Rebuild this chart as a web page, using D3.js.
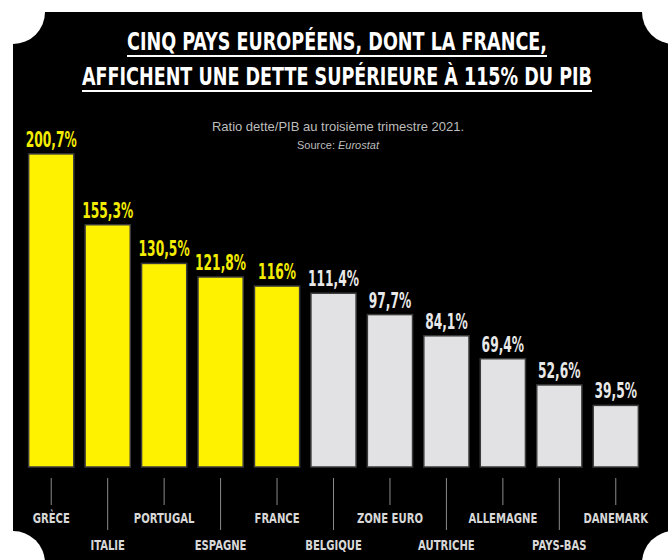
<!DOCTYPE html>
<html>
<head>
<meta charset="utf-8">
<script src="https://cdn.jsdelivr.net/npm/d3@7"></script>
<style>
  body { margin: 0; background: #fff; }
  svg { display: block; }
  .cond { font-family: "Liberation Sans Narrow", "DejaVu Sans Condensed", "Arial Narrow", sans-serif; font-stretch: condensed; }
</style>
</head>
<body>
<div id="chart"></div>
<script>
// Debt / GDP ratio, Q3 2021 (Eurostat)
const countries = ["GRÈCE", "ITALIE", "PORTUGAL", "ESPAGNE", "FRANCE", "BELGIQUE",
  "ZONE EURO", "AUTRICHE", "ALLEMAGNE", "PAYS-BAS", "DANEMARK"];
const ratios = [200.7, 155.3, 130.5, 121.8, 116, 111.4, 97.7, 84.1, 69.4, 52.6, 39.5];
const valueLabels = ["200,7%", "155,3%", "130,5%", "121,8%", "116%", "111,4%",
  "97,7%", "84,1%", "69,4%", "52,6%", "39,5%"];
const threshold = 115;

const titleLines = ["CINQ PAYS EUROPÉENS, DONT LA FRANCE,", "AFFICHENT UNE DETTE SUPÉRIEURE À 115% DU PIB"];
const subtitle = "Ratio dette/PIB au troisième trimestre 2021.";

const W = 668, H = 560;
const yellow = "#fff200", grey = "#e2e2e4";

const svg = d3.select("#chart").append("svg")
  .attr("width", W).attr("height", H);

// black card with scalloped corners
svg.append("rect").attr("x", 13).attr("y", 12).attr("width", 670).attr("height", 560).attr("fill", "#000");
[[13, 12], [674, 12], [13, 563], [674, 563]].forEach(c => {
  svg.append("circle").attr("cx", c[0]).attr("cy", c[1]).attr("r", 32).attr("fill", "#fff");
});

// title, underlined
const titleWidths = [420, 510];
const titleBase = [50, 85];
titleLines.forEach((t, i) => {
  svg.append("text")
    .attr("class", "cond")
    .attr("x", 337).attr("y", titleBase[i])
    .attr("text-anchor", "middle")
    .attr("textLength", titleWidths[i]).attr("lengthAdjust", "spacingAndGlyphs")
    .attr("font-size", 25).attr("font-weight", "bold")
    .attr("fill", "#fff")
    .text(t);
  svg.append("line")
    .attr("x1", 337 - titleWidths[i] / 2).attr("x2", 337 + titleWidths[i] / 2)
    .attr("y1", titleBase[i] + 6).attr("y2", titleBase[i] + 6)
    .attr("stroke", "#fff").attr("stroke-width", 2);
});

svg.append("text")
  .attr("x", 338).attr("y", 131)
  .attr("text-anchor", "middle")
  .attr("font-family", "Liberation Sans, Arial, sans-serif")
  .attr("font-size", 13).attr("fill", "#bdbdbd")
  .text(subtitle);

const src = svg.append("text")
  .attr("x", 338).attr("y", 149)
  .attr("text-anchor", "middle")
  .attr("font-family", "Liberation Sans, Arial, sans-serif")
  .attr("font-size", 11).attr("fill", "#bdbdbd");
src.append("tspan").text("Source: ");
src.append("tspan").attr("font-style", "italic").text("Eurostat");

// scales
const x = d3.scaleBand()
  .domain(countries)
  .range([23, 644])
  .paddingInner(0.2)
  .paddingOuter(0.1);

const y = d3.scaleLinear()
  .domain([0, 200])
  .range([467, 155]);

const data = countries.map((c, i) => ({ country: c, value: ratios[i], label: valueLabels[i] }));

// bars
svg.append("g").selectAll("rect")
  .data(data)
  .join("rect")
    .attr("x", d => x(d.country))
    .attr("y", d => y(d.value))
    .attr("width", x.bandwidth())
    .attr("height", d => y(0) - y(d.value))
    .attr("fill", d => d.value > threshold ? yellow : grey)
    .attr("stroke", "#3a3a3a")
    .attr("stroke-width", 1.5);

// value labels
svg.append("g").selectAll("text")
  .data(data)
  .join("text")
    .attr("class", "cond")
    .attr("transform", d => `translate(${x(d.country) + x.bandwidth() / 2},${y(d.value) - 7}) scale(0.62,1)`)
    .attr("text-anchor", "middle")
    .attr("font-size", 22).attr("font-weight", "bold")
    .attr("fill", d => d.value > threshold ? "#f4ec00" : "#e8e8e8")
    .text(d => d.label);

// x axis with staggered labels
const axis = svg.append("g")
  .attr("transform", "translate(0,478)")
  .call(d3.axisBottom(x).tickSizeOuter(0));
axis.select(".domain").remove();
axis.selectAll(".tick line")
  .attr("stroke", "#8a8a8a")
  .attr("y2", (d, i) => i % 2 ? 52 : 27);
axis.selectAll(".tick text")
  .attr("class", "cond")
  .attr("y", (d, i) => i % 2 ? 72 : 45)
  .attr("dy", 0)
  .attr("transform", "scale(0.8,1)")
  .attr("font-size", 14)
  .attr("font-weight", "bold")
  .attr("fill", "#d8d8d8");
</script>
</body>
</html>
